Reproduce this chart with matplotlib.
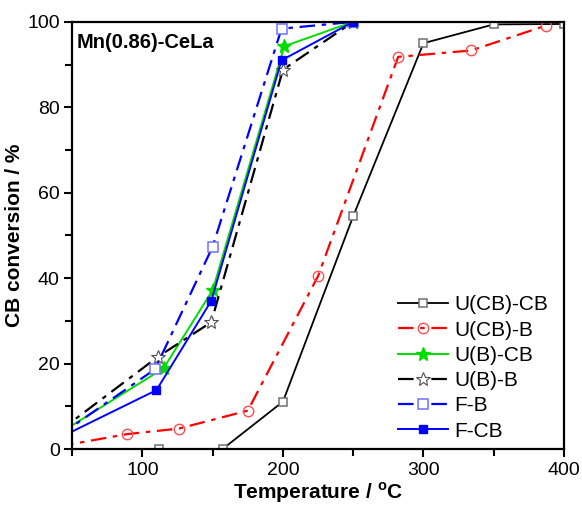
import numpy as np
import matplotlib
matplotlib.use("Agg")
from matplotlib import pyplot as plt
from matplotlib.ticker import MultipleLocator

plt.rcParams['font.family'] = ['Liberation Sans', 'DejaVu Sans']

# data
ucb_cb_x = [112, 157, 200, 250, 300, 350, 400]
ucb_cb_y = [0, 0, 11.1, 54.5, 95.0, 99.4, 99.5]

ucb_b_x = [40, 89, 126, 175, 225, 282, 334, 387]
ucb_b_y = [0.6, 3.5, 4.8, 9.0, 40.5, 91.8, 93.3, 99.1]

ub_cb_x = [40, 115, 150, 201, 250]
ub_cb_y = [3.5, 18.9, 37.2, 94.3, 100]

ub_b_x = [40, 111, 149, 200, 250]
ub_b_y = [4.0, 21.6, 29.7, 88.8, 100]

fb_x = [40, 109, 150, 199, 250]
fb_y = [3.0, 18.7, 47.4, 98.4, 100]

fcb_x = [40, 110, 149, 199, 250]
fcb_y = [2.5, 13.8, 34.7, 91.0, 100]

fig = plt.figure(figsize=(5.82, 5.08), dpi=100)
ax = fig.add_axes([0.124, 0.116, 0.845, 0.841])

dd = (7, 3, 2, 3)
ax.plot(ucb_cb_x, ucb_cb_y, '-', color='black', lw=1.3, marker='s', ms=6,
        mfc='white', mec='#707070', mew=1.1, label='U(CB)-CB')
ax.plot(ucb_b_x, ucb_b_y, color='red', lw=1.6, dashes=dd, marker='o', ms=7.5,
        mfc='none', mec='#ff5050', mew=1.0, label='U(CB)-B')
ax.plot(ub_cb_x, ub_cb_y, '-', color='#00dd00', lw=1.4, marker='*', ms=10,
        mfc='#00dd00', mec='#00dd00', label='U(B)-CB')
ax.plot(ub_b_x, ub_b_y, color='black', lw=1.6, dashes=dd, marker='*', ms=10,
        mfc='white', mec='#505050', mew=0.8, label='U(B)-B')
ax.plot(fb_x, fb_y, color='blue', lw=1.6, dashes=dd, marker='s', ms=6.5,
        mfc='white', mec='#7070ff', mew=1.1, label='F-B')
ax.plot(fcb_x, fcb_y, '-', color='blue', lw=1.4, marker='s', ms=6,
        mfc='blue', mec='blue', label='F-CB')

ax.set_xlim(50, 400)
ax.set_ylim(0, 100)
ax.xaxis.set_major_locator(MultipleLocator(100))
ax.xaxis.set_minor_locator(MultipleLocator(50))
ax.yaxis.set_major_locator(MultipleLocator(20))
ax.yaxis.set_minor_locator(MultipleLocator(10))
ax.tick_params(which='both', direction='out', top=False, right=False,
               width=1.5, labelsize=14)
ax.tick_params(which='major', length=6, pad=3)
ax.tick_params(which='minor', length=5)
for s in ax.spines.values():
    s.set_linewidth(1.6)

ax.set_xlabel('Temperature / $^\\mathregular{o}$C', fontsize=15, fontweight='bold',
              labelpad=1)
ax.set_ylabel('CB conversion / %', fontsize=15, fontweight='bold', labelpad=2)
ax.text(0.01, 0.975, 'Mn(0.86)-CeLa', transform=ax.transAxes, fontsize=14.5,
        fontweight='bold', va='top', ha='left')

ax.legend(loc='lower right', frameon=False, fontsize=15, handlelength=2.4,
          labelspacing=0.3, handletextpad=0.3, borderaxespad=0.0,
          bbox_to_anchor=(0.985, 0.0))

fig.savefig('out.png', dpi=100)
